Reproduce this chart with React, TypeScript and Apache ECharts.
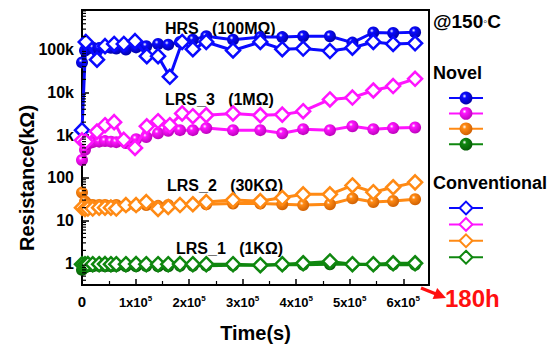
import React, { useEffect, useRef } from "react";
import * as echarts from "echarts";

// Time (s) sampling points
const timeA = [0, 5600, 11000, 20000, 32000, 43000, 54000, 64000, 82000, 101000, 120000, 142000, 161000, 183000, 207000, 232000, 282000, 333000, 374000, 413000, 463000, 505000, 544000, 581000, 622000];
const timeB = [0, 7000, 28000, 43000, 60000, 78000, 99000, 121000, 142000, 164000, 187000, 207000, 232000, 282000, 333000, 374000, 413000, 463000, 505000, 544000, 581000, 622000];

// Novel devices (kΩ), on timeA
const hrsNovel = [50000, 95000, 105000, 110000, 108000, 112000, 110000, 105000, 100000, 112000, 120000, 135000, 130000, 150000, 170000, 205000, 170000, 195000, 195000, 205000, 205000, 145000, 250000, 245000, 255000];
const lrs3Novel = [260, 450, 620, 680, 700, 720, 700, 680, 650, 800, 900, 1100, 1250, 1300, 1300, 1450, 1300, 1300, 1100, 1370, 1300, 1600, 1370, 1450, 1500];
const lrs2Novel = [45, 28, 24, 23, 23, 23, 22, 23, 22, 22, 23, 22, 23, 23, 24, 24, 25, 25, 24, 23, 24, 33, 27, 28.5, 31.5];
const lrs1Novel = [0.7, 0.8, 0.85, 0.85, 0.86, 0.85, 0.85, 0.86, 0.85, 0.85, 0.86, 0.85, 0.85, 0.87, 0.87, 0.88, 0.9, 0.9, 0.92, 0.92, 0.95, 0.95, 0.92, 0.93, 0.92];

// Conventional devices (kΩ)
const hrsConv = [1300, 150000, 58000, 120000, 135000, 135000, 157000, 70000, 70000, 23000, 150000, 102000, 150000, 95000, 150000, 102000, 105000, 92000, 110000, 150000, 135000, 140000]; // timeB
const lrs3Conv = [750, 700, 1200, 1700, 2000, 770, 500, 1600, 2100, 1700, 3200, 2750, 2900, 3200, 2900, 3000, 3600, 6800, 7500, 11000, 14000, 20600]; // timeB
const lrs2Conv = [20, 18.6, 19, 19, 20, 20, 20, 19, 23, 23, 27, 18.6, 20.7, 23, 24, 27, 30, 28.5, 34, 41, 41, 66, 46, 60, 78]; // timeA
const lrs1Conv = [0.95, 0.95, 0.96, 0.95, 0.95, 0.96, 0.95, 0.95, 0.95, 0.96, 0.95, 0.95, 0.95, 0.96, 0.95, 0.95, 0.95, 0.9, 0.95, 1.0, 1.1, 0.95, 0.95, 1.0, 1.0]; // timeA

const yTickLabels: Record<number, string> = { 0: "1", 1: "10", 2: "100", 3: "1k", 4: "10k", 5: "100k" };

const BLUE = "#0a0aff";
const MAGENTA = "#ff14ff";
const ORANGE = "#ff8a14";
const GREEN = "#0f870f";
const DARK: Record<string, string> = { [BLUE]: "#00009a", [MAGENTA]: "#b000b0", [ORANGE]: "#c85a00", [GREEN]: "#045404" };

const FONT = "'Liberation Sans', Arial, sans-serif";

function zip(t: number[], v: number[]) {
  return v.map((y, i) => [t[i], y]);
}

function ball(c: string) {
  return {
    type: "radial",
    x: 0.38,
    y: 0.35,
    r: 0.75,
    colorStops: [
      { offset: 0, color: "#ffffff" },
      { offset: 0.22, color: c },
      { offset: 1, color: DARK[c] },
    ],
  };
}

function novelSeries(name: string, data: number[][], c: string) {
  return {
    name,
    type: "line",
    data,
    symbol: "circle",
    symbolSize: 12,
    lineStyle: { color: c, width: 3 },
    itemStyle: { color: ball(c), borderWidth: 0 },
    z: 3,
  };
}

function convSeries(name: string, data: number[][], c: string) {
  return {
    name,
    type: "line",
    data,
    symbol: "diamond",
    symbolSize: [14, 14],
    lineStyle: { color: c, width: 3 },
    itemStyle: { color: "#ffffff", borderColor: c, borderWidth: 2.5 },
    z: 4,
  };
}

export default function App() {
  const ref = useRef<HTMLDivElement>(null);
  useEffect(() => {
    if (!ref.current) return;
    const chart = echarts.init(ref.current, null, { renderer: "svg" });

    const minorVals: number[][] = [];
    for (let k = -1; k <= 5; k++) {
      for (let m = 2; m <= 9; m++) {
        const v = m * Math.pow(10, k);
        if (v > 0.31 && v < 840000) minorVals.push([0, v]);
      }
    }

    const novelNames = ["HRS Novel", "LRS_3 Novel", "LRS_2 Novel", "LRS_1 Novel"];
    const convNames = ["HRS Conventional", "LRS_3 Conventional", "LRS_2 Conventional", "LRS_1 Conventional"];

    const legendBase = {
      orient: "vertical",
      left: 443,
      itemWidth: 34,
      itemHeight: 16,
      itemGap: 1,
      formatter: () => "",
      selectedMode: false,
      textStyle: { fontSize: 2, padding: 0 },
    };

    const label = (text: string, x: number, y: number) => ({
      type: "text", x, y,
      style: { text, fontFamily: FONT, fontWeight: "bold", fontSize: 16, fill: "#000", verticalAlign: "middle" },
    });

    chart.setOption({
      animation: false,
      backgroundColor: "#ffffff",
      grid: { left: 82, right: 125, top: 10, bottom: 59, show: true, borderColor: "#000", borderWidth: 2, backgroundColor: "transparent" },
      legend: [
        { ...legendBase, top: 85, data: novelNames },
        { ...legendBase, top: 195, data: convNames },
      ],
      xAxis: {
        type: "value",
        min: 0,
        max: 648000,
        interval: 100000,
        name: "Time(s)",
        nameLocation: "middle",
        nameGap: 38,
        nameTextStyle: { fontFamily: FONT, fontWeight: "bold", fontSize: 20, color: "#000" },
        axisLine: { lineStyle: { color: "#000", width: 2 } },
        axisTick: { inside: true, length: 6, lineStyle: { color: "#000", width: 1.5 } },
        minorTick: { show: true, splitNumber: 2, length: 4, lineStyle: { color: "#000", width: 1.2 } },
        splitLine: { show: false },
        axisLabel: {
          margin: 9,
          showMaxLabel: false,
          formatter: (v: number) => (v === 0 ? "{z|0}" : `{n|${Math.round(v / 1e5)}x10}{s|5}`),
          rich: {
            z: { fontFamily: FONT, fontWeight: "bold", fontSize: 15, color: "#000" },
            n: { fontFamily: FONT, fontWeight: "bold", fontSize: 13, color: "#000" },
            s: { fontFamily: FONT, fontWeight: "bold", fontSize: 8, color: "#000", padding: [0, 0, 9, 0] },
          },
        },
      },
      yAxis: {
        type: "log",
        logBase: 10,
        min: 0.31,
        max: 840000,
        splitNumber: 6,
        axisLine: { lineStyle: { color: "#000", width: 2 } },
        axisTick: { inside: true, length: 7, lineStyle: { color: "#000", width: 1.5 } },
        splitLine: { show: false },
        axisLabel: {
          margin: 8,
          showMinLabel: false,
          showMaxLabel: false,
          fontFamily: FONT,
          fontWeight: "bold",
          fontSize: 16,
          color: "#000",
          formatter: (v: number) => {
            const e = Math.log10(v);
            const r = Math.round(e);
            if (Math.abs(e - r) > 0.01) return "";
            return yTickLabels[r] ?? "";
          },
        },
      },
      series: [
        novelSeries("HRS Novel", zip(timeA, hrsNovel), BLUE),
        novelSeries("LRS_3 Novel", zip(timeA, lrs3Novel), MAGENTA),
        novelSeries("LRS_2 Novel", zip(timeA, lrs2Novel), ORANGE),
        novelSeries("LRS_1 Novel", zip(timeA, lrs1Novel), GREEN),
        convSeries("HRS Conventional", zip(timeB, hrsConv), BLUE),
        convSeries("LRS_3 Conventional", zip(timeB, lrs3Conv), MAGENTA),
        convSeries("LRS_2 Conventional", zip(timeA, lrs2Conv), ORANGE),
        convSeries("LRS_1 Conventional", zip(timeA, lrs1Conv), GREEN),
        {
          name: "minor",
          type: "custom",
          data: minorVals,
          silent: true,
          clip: false,
          z: 10,
          renderItem: (_p: any, api: any) => {
            const pt = api.coord([0, api.value(1)]);
            return {
              type: "line",
              shape: { x1: pt[0], y1: pt[1], x2: pt[0] + 4, y2: pt[1] },
              style: { stroke: "#000", lineWidth: 1.2 },
            };
          },
        },
      ],
      graphic: [
        { type: "text", x: 27, y: 178, rotation: Math.PI / 2,
          style: { text: "Resistance(kΩ)", fontFamily: FONT, fontWeight: "bold", fontSize: 20, fill: "#000", align: "center", verticalAlign: "middle" } },
        label("HRS   (100MΩ)", 165, 28),
        label("LRS_3   (1MΩ)", 165, 99),
        label("LRS_2   (30KΩ)", 167, 185),
        label("LRS_1   (1KΩ)", 176, 248),
        { type: "text", x: 433, y: 21, style: { text: "{a|@150}{b|◦}{a|C}", fontFamily: FONT, verticalAlign: "middle",
          rich: { a: { fontFamily: FONT, fontWeight: "bold", fontSize: 19, fill: "#000" }, b: { fontFamily: FONT, fontSize: 11, fill: "#000" } } } },
        { type: "text", x: 433, y: 73, style: { text: "Novel", fontFamily: FONT, fontWeight: "bold", fontSize: 18, fill: "#000", verticalAlign: "middle" } },
        { type: "text", x: 433, y: 183, style: { text: "Conventional", fontFamily: FONT, fontWeight: "bold", fontSize: 18, fill: "#000", verticalAlign: "middle" } },
        { type: "text", x: 445, y: 298, style: { text: "180h", fontFamily: FONT, fontWeight: "bold", fontSize: 24, fill: "#ff1010", verticalAlign: "middle" } },
        { type: "line", shape: { x1: 421, y1: 288, x2: 436, y2: 294 }, style: { stroke: "#ff1010", lineWidth: 3.5 } },
        { type: "polygon", shape: { points: [[446, 298], [432.6, 298.9], [437.2, 287.9]] }, style: { fill: "#ff1010" } },
      ],
    });
    return () => chart.dispose();
  }, []);
  return <div ref={ref} style={{ width: 554, height: 348, position: "fixed", left: 0, top: 0 }} />;
}
